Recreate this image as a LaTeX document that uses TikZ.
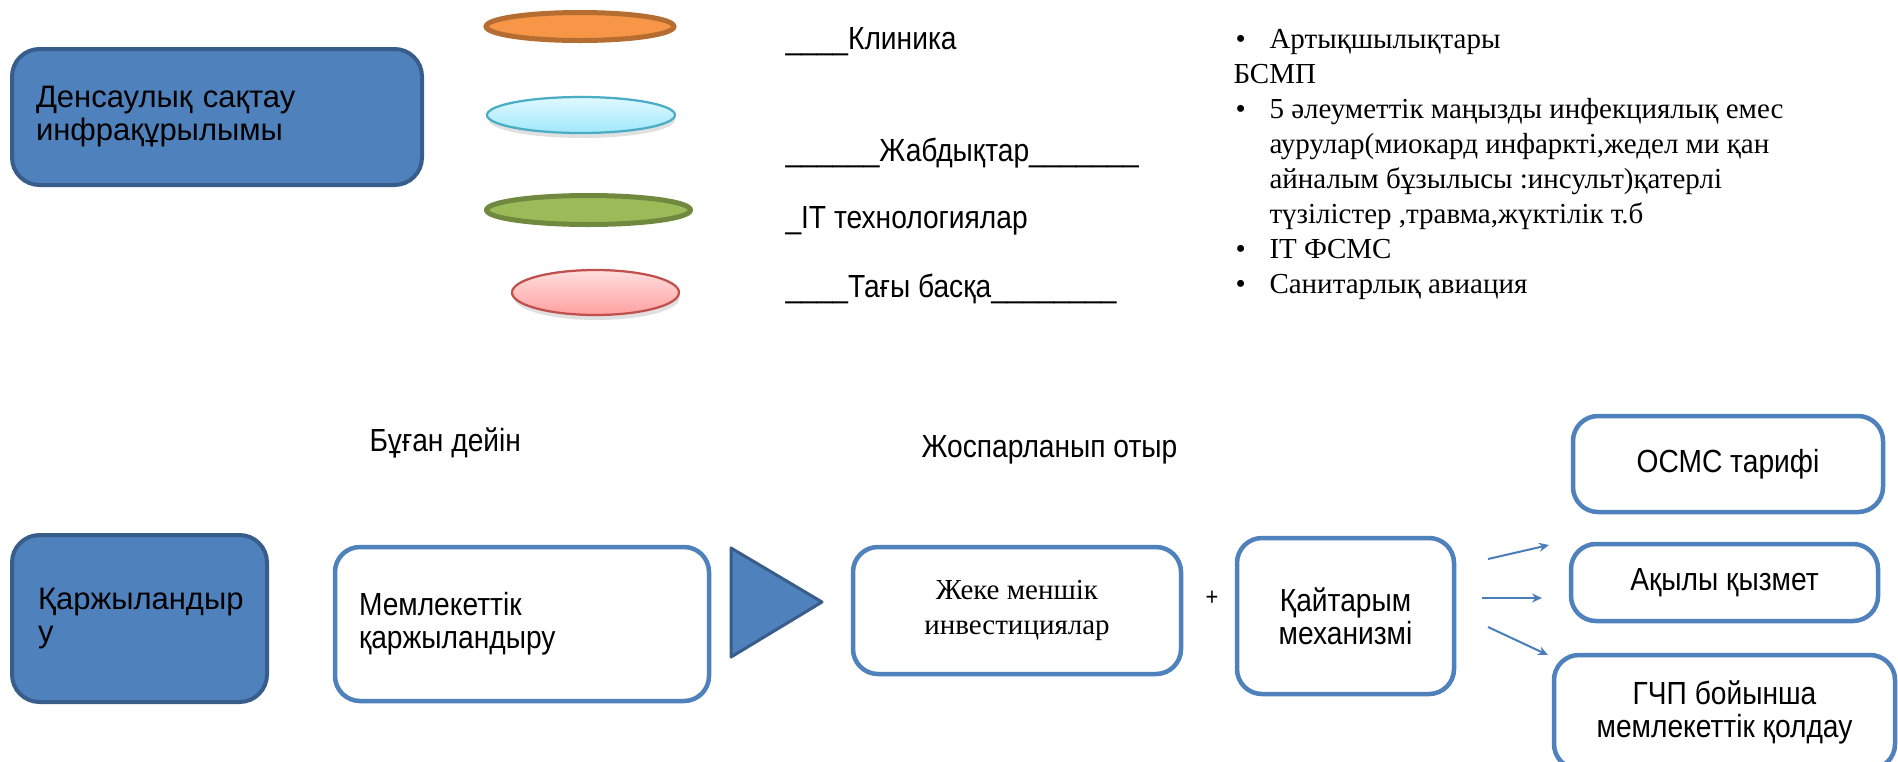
\documentclass[tikz,border=0pt]{standalone}
\usepackage{fontspec}
\setmainfont{Liberation Sans}
\newfontfamily\narrowsans[FakeStretch=0.88]{Liberation Sans}
\newfontfamily\timesfont{Liberation Serif}
\usetikzlibrary{arrows.meta,shapes.geometric}

\newlength{\px}\setlength{\px}{0.4pt}
\newcommand{\bul}{\makebox[36\px][l]{\hspace{2\px}\textbullet}}

\definecolor{boxblue}{RGB}{79,129,189}
\definecolor{boxedge}{RGB}{56,93,138}
\definecolor{arrowblue}{RGB}{74,126,187}
\definecolor{orangefill}{RGB}{247,150,70}
\definecolor{orangeedge}{RGB}{182,109,49}
\definecolor{cyanedge}{RGB}{75,172,198}
\definecolor{cyantop}{RGB}{224,249,255}
\definecolor{cyanbottom}{RGB}{160,232,250}
\definecolor{greenfill}{RGB}{155,187,89}
\definecolor{greenedge}{RGB}{113,137,63}
\definecolor{pinkedge}{RGB}{192,80,77}
\definecolor{pinktop}{RGB}{255,222,222}
\definecolor{pinkbottom}{RGB}{255,160,160}

\tikzset{
  sanstext/.style={font=\narrowsans\fontsize{12.8pt}{13.2pt}\selectfont, inner sep=0pt},
  serifbody/.style={font=\timesfont\fontsize{11.6pt}{14pt}\selectfont, inner sep=0pt},
  darkbox/.style={font=\fontsize{12.4pt}{13.2pt}\selectfont, inner sep=0pt, rounded corners=11pt, fill=boxblue, draw=boxedge, line width=1.6pt},
  plainbox/.style={sanstext, rounded corners=10pt, fill=white, draw=boxblue, line width=1.8pt},
  pill/.style={ellipse, inner sep=0pt},
  pillshade/.style={pill, fill=black, opacity=0.12},
  link/.style={draw=arrowblue, line width=0.8pt, -{Stealth[length=4pt,width=3.6pt]}},
}

\begin{document}
\begin{tikzpicture}[x=0.4pt,y=0.4pt,yscale=-1]
\useasboundingbox (0,0) rectangle (1898,761);
\fill[white] (0,0) rectangle (1898,761);

%Rounded Rect: infrastructure
\node[darkbox, minimum width=410\px, minimum height=136\px, text width=362\px, align=left] (infra) at (217,117) {Денсаулық сақтау\\инфрақұрылымы};

%Ellipses
\node[pill, fill=orangefill, draw=orangeedge, line width=2pt, minimum width=188\px, minimum height=28\px] (clinicmark) at (580,26.5) {};
\node[pillshade, minimum width=186\px, minimum height=36\px] (kitshade) at (582,120) {};
\node[pill, top color=cyantop, bottom color=cyanbottom, draw=cyanedge, line width=0.9pt, minimum width=188\px, minimum height=36\px] (kitmark) at (581,115) {};
\node[pill, fill=greenfill, draw=greenedge, line width=2pt, minimum width=204\px, minimum height=29\px] (itmark) at (588.5,210) {};
\node[pillshade, minimum width=165\px, minimum height=44\px] (othershade) at (597,298) {};
\node[pill, top color=pinktop, bottom color=pinkbottom, draw=pinkedge, line width=0.9pt, minimum width=167\px, minimum height=45\px] (othermark) at (595.5,292.5) {};

% Text Node
\node[sanstext, anchor=base west] (clinic) at (785,49) {\_\_\_\_Клиника};
% Text Node
\node[sanstext, anchor=base west] (kit) at (785,161) {\_\_\_\_\_\_Жабдықтар\_\_\_\_\_\_\_};
% Text Node
\node[sanstext, anchor=base west] (itech) at (785,228) {\_IT технологиялар};
% Text Node
\node[sanstext, anchor=base west] (other) at (785,297) {\_\_\_\_Тағы басқа\_\_\_\_\_\_\_\_};

% Text Node: list
\node[serifbody, anchor=base west, align=left] (merits) at (1233,293) {\bul Артықшылықтары\\
БСМП\\
\bul 5 әлеуметтік маңызды инфекциялық емес\\
\hspace*{36\px}аурулар(миокард инфаркті,жедел ми қан\\
\hspace*{36\px}айналым бұзылысы :инсульт)қатерлі\\
\hspace*{36\px}түзілістер ,травма,жүктілік т.б\\
\bul IT ФСМС\\
\bul Санитарлық авиация};

% Text Node
\node[sanstext, anchor=base west] (before) at (369,451) {Бұған дейін};
% Text Node
\node[sanstext, anchor=base west] (planned) at (921,457) {Жоспарланып отыр};

%Rounded Rect: financing
\node[darkbox, minimum width=255\px, minimum height=167\px, text width=203\px, align=left] (finance) at (139.5,618.5) {Қаржыландыр\\у};
%Rounded Rect: state funding
\node[plainbox, minimum width=374\px, minimum height=154\px, text width=326\px, align=left] (statefund) at (522,624) {Мемлекеттік\\қаржыландыру};

%Triangle
\filldraw[fill=boxblue, draw=boxedge, line width=1.2pt, line join=round] (731,548) -- (731,657) -- (822,602) -- cycle;

%Rounded Rect: private investment
\node[plainbox, serifbody, minimum width=328\px, minimum height=127\px, align=center] (private) at (1017,610.5) {Жеке меншік\\инвестициялар};
% Text Node
\node[sanstext, font=\narrowsans\fontsize{10pt}{11pt}\selectfont] (plus) at (1212,598) {+};
%Rounded Rect: payback
\node[plainbox, minimum width=217\px, minimum height=156\px, align=center] (payback) at (1345.5,616) {Қайтарым\\механизмі};

%Rounded Rect: outcomes
\node[plainbox, minimum width=310\px, minimum height=96\px] (tariff) at (1728,464) {ОСМС тарифі};
\node[plainbox, minimum width=307\px, minimum height=77\px] (paid) at (1724.5,582.5) {Ақылы қызмет};
\node[plainbox, minimum width=341\px, minimum height=114\px, align=center] (ppp) at (1724.5,712) {ГЧП бойынша\\мемлекеттік қолдау};

%Arrows
\coordinate (upfrom) at (1488,559);
\coordinate (upto) at (1549,545);
\coordinate (midfrom) at (1482,598);
\coordinate (midto) at (1542,598);
\coordinate (downfrom) at (1488,627);
\coordinate (downto) at (1548,655);
\draw[link] (upfrom) -- (upto);
\draw[link] (midfrom) -- (midto);
\draw[link] (downfrom) -- (downto);
\end{tikzpicture}
\end{document}
